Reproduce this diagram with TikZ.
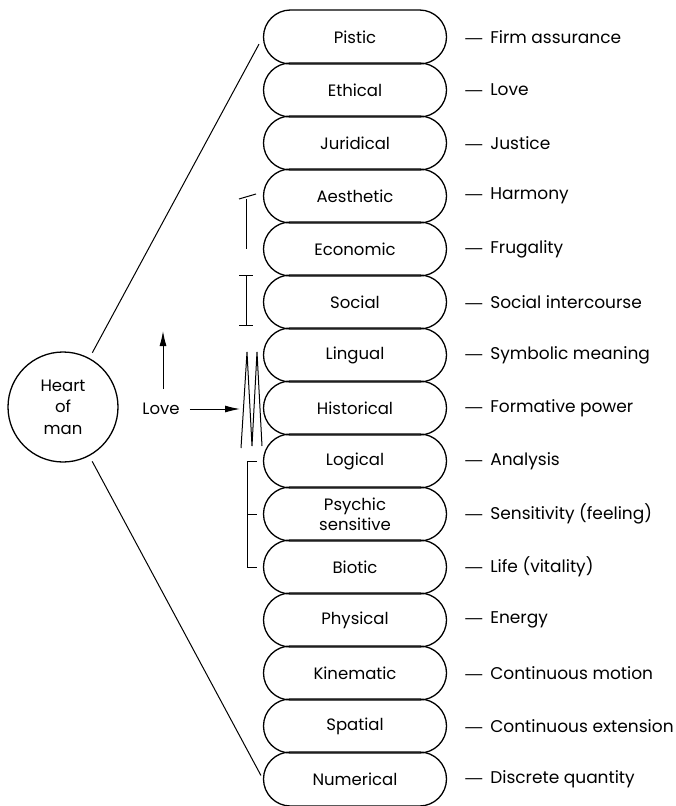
\documentclass[tikz,border=0pt]{standalone}
\usepackage{fontspec}
\setmainfont{Poppins}
\newfontfamily\dashfont{Liberation Sans}
\usetikzlibrary{shapes.misc,arrows.meta}

\tikzset{
  aspect/.style={rounded rectangle, draw, line width=1.3pt, minimum width=183pt,
    minimum height=54pt, inner sep=0pt, align=center,
    font=\fontsize{16.5}{20}\selectfont},
  meaning/.style={anchor=west, inner sep=0pt, font=\fontsize{17}{20}\selectfont},
  tickline/.style={line width=1pt},
}

\begin{document}
\begin{tikzpicture}[x=1pt,y=-1pt]
    \useasboundingbox (0,0) rectangle (675,806);
    % De modale aspecten, van boven naar beneden
    \foreach \nm/\txt/\mn [count=\i from 0] in {
        pistic/Pistic/Firm assurance,
        ethical/Ethical/Love,
        juridical/Juridical/Justice,
        aesthetic/Aesthetic/Harmony,
        economic/Economic/Frugality,
        social/Social/Social intercourse,
        lingual/Lingual/Symbolic meaning,
        historical/Historical/Formative power,
        logical/Logical/Analysis,
        psychic/{Psychic\\sensitive}/Sensitivity (feeling),
        biotic/Biotic/Life (vitality),
        physical/Physical/Energy,
        kinematic/Kinematic/Continuous motion,
        spatial/Spatial/Continuous extension,
        numerical/Numerical/Discrete quantity}
    {
        \node[aspect] (\nm) at (355,37+53*\i) {\txt};
        \node[meaning] (\nm-m) at ([xshift=18pt]\nm.east) {{\dashfont\textemdash}\hspace{8pt}\mn};
    }
    % Hart van de mens
    \node[circle, draw, line width=1.3pt, minimum size=110pt, inner sep=0pt,
          align=center, font=\fontsize{16.5}{21.5}\selectfont] (heart) at (63,407)
          {Heart\\of\\man};
    \draw[line width=1pt, shorten <=6pt, shorten >=8pt] (heart) -- (pistic.west);
    \draw[line width=1pt, shorten <=6pt, shorten >=4pt] (heart) -- (numerical.west);
    % Liefde
    \node[font=\fontsize{16.5}{20}\selectfont, inner sep=0pt] (love) at (161,409) {Love};
    \coordinate (zz) at (240,409);
    \draw[line width=1pt, -{Latex[length=15pt,width=7pt]}, shorten <=10pt] (love.east) -- (zz);
    \draw[line width=1pt, -{Latex[length=15pt,width=7pt]}] (163,389) -- (163,331);
    % Merktekens links van de aspecten
    \coordinate (bx) at (246,0);
    \draw[tickline] (bx |- aesthetic) ++(0,3) -- (bx |- economic);
    \draw[tickline] (239,199) -- (256,194);
    \draw[tickline] (bx |- social) ++(-7,-27) -- ++(14,0)
                    (bx |- social) ++(0,-27) -- ++(0,50)
                    (bx |- social) ++(-7,23) -- ++(14,0);
    \draw[tickline] (241,448) -- (247,352) -- (252,446) -- (257,352) -- (262,446);
    \draw[tickline] ([xshift=11pt]bx |- logical) -- ([xshift=1pt]bx |- logical)
                    -- ([xshift=1pt]bx |- biotic) -- ([xshift=11pt]bx |- biotic);
    \draw[tickline] ([xshift=1pt]bx |- psychic) -- ([xshift=11pt]bx |- psychic);
\end{tikzpicture}
\end{document}
